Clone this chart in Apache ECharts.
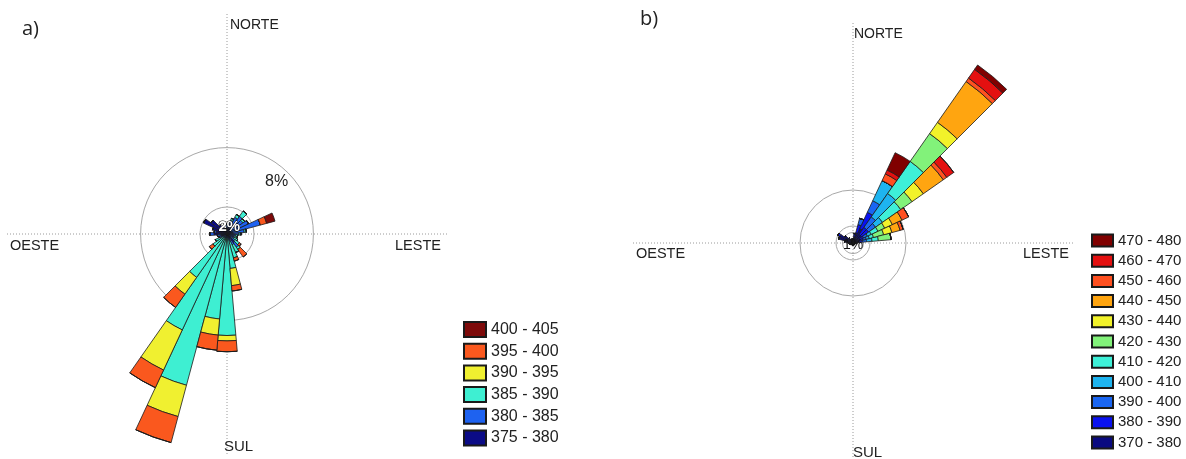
<!DOCTYPE html>
<html><head><meta charset="utf-8">
<script src="https://cdn.jsdelivr.net/npm/echarts@6/dist/echarts.min.js"></script>
<style>html,body{margin:0;padding:0;background:#fff}#c{width:1186px;height:459px}</style>
</head><body><div id="c"></div>
<script>
// direction bins (degrees, clockwise from north)
const directions = ['0','10','20','30','40','50','60','70','80','90','100','110','120','130','140','150','160','170','180','190','200','210','220','230','240','250','260','270','280','290','300','310','320','330','340','350'];

// ---- panel a) frequency (%) per class ----
const rangesA = ['375 - 380','380 - 385','385 - 390','390 - 395','395 - 400','400 - 405'];
const colorsA = ['#0b0b86','#1e62f0','#3eefd2','#f0f030','#fa581e','#7d0a0a'];
const a375 = [0.6,0.6,0.5,0.5,0.4,0.4,0.4,0.5,0.4,0.3,0.3,0.3,0.3,0.4,1.0,0.5,0.3,0.2,0.2,0.2,0.2,0.2,0.2,0.2,0.4,0.5,0.6,1.2,1.0,1.4,2.4,1.8,1.0,0.7,0.5,0.5];
const a380 = [0.3,0.5,0.8,1.2,1.6,1.4,1.8,2.7,1.2,0.8,0.5,0.4,0.4,0.5,0.5,0.6,0.4,0.3,0.2,0.2,0.2,0.2,0.2,0.2,0.3,0.3,0.3,0.4,0.2,0,0,0,0,0,0,0];
const a385 = [0,0,0.2,0.3,0.6,0.2,0,0,0.2,0.2,0.2,0.3,0.4,0.5,0.25,0.8,1.6,2.7,9.0,7.5,14.1,9.4,4.5,1.2,0.5,0,0,0,0,0,0,0,0,0,0,0];
const a390 = [0,0,0,0,0,0,0,0,0,0,0,0,0,0,0,0,0,1.6,0.5,1.5,3.0,4.1,1.9,0,0,0,0,0,0,0,0,0,0,0,0,0];
const a395 = [0,0,0,0,0,0,0,0.6,0,0,0,0,0,0.2,0.85,0,0.3,0.5,1.0,1.4,2.5,1.8,1.5,0.4,0,0,0,0,0,0,0,0,0,0,0,0];
const a400 = [0,0,0,0,0,0,0,0.8,0,0,0,0,0,0,0,0,0,0,0,0,0,0,0,0,0,0,0,0,0,0,0,0,0,0,0,0];
const seriesA = [a375,a380,a385,a390,a395,a400];

// ---- panel b) frequency (%) per class ----
const rangesB = ['370 - 380','380 - 390','390 - 400','400 - 410','410 - 420','420 - 430','430 - 440','440 - 450','450 - 460','460 - 470','470 - 480'];
const colorsB = ['#0a0a80','#0a12f0','#1a66f2','#1eb4f0','#3ef0d8','#82f27a','#f2f22a','#ffa510','#ff5020','#e41010','#800000'];
const b370 = [0.4,0.6,1.0,1.5,1.0,1.0,0.6,0.6,0.5,0.3,0.2,0.2,0.2,0.2,0.2,0.2,0.2,0.2,0.2,0.2,0.2,0.2,0.2,0.2,0.3,0.3,0.3,0.4,0.8,1.4,1.4,1.0,0.6,0.4,0.3,0.3];
const b380 = [0,0.3,0.8,1.7,0.8,0.8,0.5,0.4,0.4,0,0,0,0,0,0,0,0,0,0,0,0,0,0,0,0,0,0,0,0,0,0.2,0,0,0,0,0];
const b390 = [0,0,0.6,1.2,1.2,0.8,0.4,0.3,0.4,0,0,0,0,0,0,0,0,0,0,0,0,0,0,0,0,0,0,0,0,0,0,0,0,0,0,0];
const b400 = [0,0,0,2.1,2.7,0.8,0.4,0.3,0.5,0,0,0,0,0,0,0,0,0,0,0,0,0,0,0,0,0,0,0,0,0,0,0,0,0,0,0];
const b410 = [0,0,0,0,3.7,2.1,0.7,0.4,0.6,0,0,0,0,0,0,0,0,0,0,0,0,0,0,0,0,0,0,0,0,0,0,0,0,0,0,0];
const b420 = [0,0,0,0,3.2,1.3,0.7,1.0,1.2,0,0,0,0,0,0,0,0,0,0,0,0,0,0,0,0,0,0,0,0,0,0,0,0,0,0,0];
const b430 = [0,0,0,0,1.3,1.3,0.8,0.8,0,0,0,0,0,0,0,0,0,0,0,0,0,0,0,0,0,0,0,0,0,0,0,0,0,0,0,0];
const b440 = [0,0,0,0,4.7,2.3,1.0,0.8,0,0,0,0,0,0,0,0,0,0,0,0,0,0,0,0,0,0,0,0,0,0,0,0,0,0,0,0];
const b450 = [0,0,0,0.7,0.4,0.4,0.7,0.3,0,0,0,0,0,0,0,0,0,0,0,0,0,0,0,0,0,0,0,0,0,0,0,0,0,0,0,0];
const b460 = [0,0,0,0.4,1.0,0.8,0,0,0,0,0,0,0,0,0,0,0,0,0,0,0,0,0,0,0,0,0,0,0,0,0,0,0,0,0,0];
const b470 = [0,0,0,1.8,0.5,0,0,0,0,0,0,0,0,0,0,0,0,0,0,0,0,0,0,0,0,0,0,0,0,0,0,0,0,0,0,0];
const seriesB = [b370,b380,b390,b400,b410,b420,b430,b440,b450,b460,b470];

// reference circles (%)
const ringsA = [2.5, 8];
const ringsB = [1, 1.6, 5];
const maxA = 21, maxB = 21;

// ---- layout ----
const pxA = 10.8, pxB = 10.6;          // pixels per percent
const centerA = [227, 234], centerB = [853, 243];
const crossR = 220;
const FONT = 'Liberation Sans, Arial, sans-serif';

const polar = [], angleAxis = [], radiusAxis = [], series = [];
const hide = {axisLine:{show:false}, axisTick:{show:false}, axisLabel:{show:false}, splitLine:{show:false}};

function addCross(center){
  const i = polar.length;
  polar.push({center, radius: crossR});
  angleAxis.push(Object.assign({}, hide, {polarIndex:i, type:'value', min:0, max:360, interval:90, startAngle:90,
    splitLine:{show:true, lineStyle:{color:'#9a9a9a', width:1, type:[1,2]}}}));
  radiusAxis.push(Object.assign({}, hide, {polarIndex:i, type:'value', min:0, max:1}));
}
function addRing(center, val, px){
  const i = polar.length;
  polar.push({center, radius: val*px});
  angleAxis.push(Object.assign({}, hide, {polarIndex:i, type:'value', min:0, max:360, startAngle:90,
    axisLine:{show:true, lineStyle:{color:'#a8a8a8', width:1}}}));
  radiusAxis.push(Object.assign({}, hide, {polarIndex:i, type:'value', min:0, max:val}));
}
function addBars(center, max, px, names, colors, data, stack){
  const i = polar.length;
  polar.push({center, radius: max*px});
  angleAxis.push(Object.assign({}, hide, {polarIndex:i, type:'category', data:directions, startAngle:95, boundaryGap:true}));
  radiusAxis.push(Object.assign({}, hide, {polarIndex:i, type:'value', min:0, max}));
  names.forEach((name,k)=>{
    series.push({type:'bar', name, coordinateSystem:'polar', polarIndex:i, stack, data:data[k],
      barCategoryGap:'0%', itemStyle:{color:colors[k], borderColor:'#1a1a1a', borderWidth:0.8},
      emphasis:{disabled:true}, silent:true});
  });
}

addCross(centerA);
ringsA.forEach(v=>addRing(centerA, v, pxA));
addBars(centerA, maxA, pxA, rangesA, colorsA, seriesA, 'a');
addCross(centerB);
ringsB.forEach(v=>addRing(centerB, v, pxB));
addBars(centerB, maxB, pxB, rangesB, colorsB, seriesB, 'b');

function txt(text, x, y, size, opts){
  return {type:'text', left:x, top:y, style:Object.assign({text, fontSize:size, fontFamily:FONT, fill:'#222'}, opts||{}), z:10};
}

const option = {
  backgroundColor:'#fff',
  animation:false,
  polar, angleAxis, radiusAxis, series,
  legend:[
    {data:rangesA.slice().reverse(), orient:'vertical', left:463, top:321, itemWidth:22, itemHeight:15, itemGap:4.7, padding:0,
     icon:'rect', selectedMode:false, textStyle:{fontSize:16, color:'#222', fontFamily:FONT}},
    {data:rangesB.slice().reverse(), orient:'vertical', left:1091, top:233, itemWidth:21, itemHeight:12, itemGap:5.2, padding:0,
     icon:'rect', selectedMode:false, textStyle:{fontSize:15, color:'#222', fontFamily:FONT}}
  ],
  graphic:[
    txt('a)', 22, 19, 20, {fontFamily:'Open Sans, sans-serif'}),
    txt('b)', 640, 9, 20, {fontFamily:'Open Sans, sans-serif'}),
    txt('NORTE', 230, 18, 14),
    txt('OESTE', 10, 238, 14.5),
    txt('LESTE', 395, 238, 14.5),
    txt('SUL', 224, 439, 15),
    txt('8%', 265, 174, 16),
    txt('2%', 218, 219, 15, {fill:'#fff', stroke:'#000', lineWidth:1, fontWeight:'bold'}),
    txt('NORTE', 854, 27, 14),
    txt('OESTE', 636, 246, 14.5),
    txt('LESTE', 1023, 246, 14.5),
    txt('SUL', 853, 445, 15),
    txt('1%', 843, 238, 14, {fill:'#111'})
  ]
};
echarts.init(document.getElementById('c'), null, {renderer:'canvas'}).setOption(option);
</script></body></html>
